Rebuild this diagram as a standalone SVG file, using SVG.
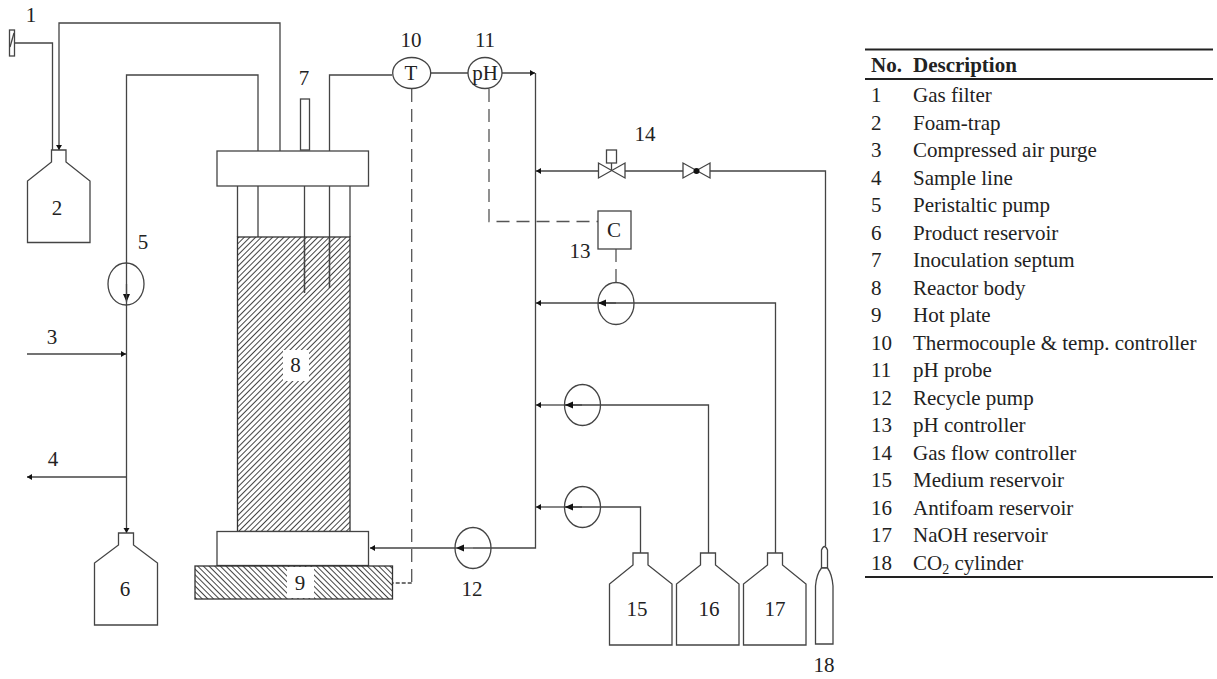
<svg xmlns="http://www.w3.org/2000/svg" width="1217" height="679" viewBox="0 0 1217 679">
<style>
text{font-family:"Liberation Serif","Times New Roman",serif;fill:#222}
.l{font-size:21px;text-anchor:middle}
.t{font-size:21px}
.b{font-weight:bold}
.s{fill:none;stroke:#444;stroke-width:1.3}
.w{fill:#fff;stroke:#444;stroke-width:1.3}
.c{fill:none;stroke:#444;stroke-width:1.3}
.d{fill:none;stroke:#555;stroke-width:1.3;stroke-dasharray:13 7}
.a{marker-end:url(#ah)}
.p{marker-end:url(#ap)}
.r{stroke:#222;stroke-width:2}
</style>
<defs>
<marker id="ah" markerUnits="userSpaceOnUse" markerWidth="8" markerHeight="8" refX="6" refY="4" orient="auto"><path d="M1 1L6 4L1 7Z" fill="#111"/></marker>
<marker id="ap" markerUnits="userSpaceOnUse" markerWidth="10" markerHeight="10" refX="8" refY="5" orient="auto"><path d="M0 1.500L8 5L0 8.500Z" fill="#111"/></marker>
<pattern id="h1" patternUnits="userSpaceOnUse" width="4" height="4" patternTransform="rotate(-45)"><rect width="4" height="1" fill="#444"/></pattern>
<pattern id="h2" patternUnits="userSpaceOnUse" width="4" height="4" patternTransform="rotate(45)"><rect width="4" height="1" fill="#444"/></pattern>
</defs>

<g id="connectors">
<path class="c" d="M14.500 43H52.500V151"/>
<path class="c a" d="M280 151V23H59V150"/>
<path class="c" d="M258 151V75H126.500V284"/>
<path class="c p" d="M126.500 284V302"/>
<path class="c a" d="M126.500 284V533"/>
<path class="c a" d="M27 354H126"/>
<path class="c a" d="M126.500 477H27"/>
<path class="c" d="M329.500 151V75H392"/>
<path class="c" d="M430.500 73H468"/>
<path class="c a" d="M502 73H535"/>
<path class="c" d="M535.500 73V548H473"/>
<path class="c p" d="M473 548H456"/>
<path class="c a" d="M456 548H370"/>
<path class="d" d="M411.700 89V583"/>
<path class="c" stroke-dasharray="4 2" style="stroke-dasharray:4 2" d="M411.700 583H392.500"/>
<path class="d" d="M489 89V221.500H598"/>
<path class="d" d="M616 249V284"/>
<path class="c a" d="M598 171H536"/>
<path class="c" d="M625 171H683M710 171H825.500V546"/>
<path class="c a" d="M600 303H536"/>
<path class="c" d="M600 303H775.500V553"/>
<path class="c p" d="M616 303H598"/>
<path class="c a" d="M566 405H536"/>
<path class="c" d="M566 405H708.500V553"/>
<path class="c p" d="M582 405H565"/>
<path class="c a" d="M566 507H536"/>
<path class="c" d="M566 507H640.500V553"/>
<path class="c p" d="M582 507H565"/>
</g>

<g id="n1"><rect class="w" x="9.500" y="30" width="5" height="26"/><path class="s" d="M10 47L14 33"/><text class="l" x="31" y="22">1</text></g>
<g id="n2"><path class="w" d="M51.500 150V162L27.500 181V242.500H90V181L66 162V150Z"/><text class="l" x="57" y="215">2</text></g>
<g id="n5"><ellipse class="s" cx="126" cy="284" rx="18" ry="21"/><text class="l" x="143" y="249">5</text></g>
<g id="n3"><text class="l" x="52" y="344">3</text></g>
<g id="n4"><text class="l" x="53" y="466">4</text></g>
<g id="n6"><path class="w" d="M118.500 533V545L94.500 563V625H157.500V563L133.500 545V533Z"/><text class="l" x="125" y="596">6</text></g>

<g id="n8">
<path class="s" d="M237.500 186V237M350 186V237M258 186V237M304.500 186V293M329.500 186V288"/>
<rect x="237.500" y="237" width="112.500" height="294.500" fill="url(#h1)" stroke="#333" stroke-width="1.300"/>
<path class="s" d="M304.500 237V293M329.500 237V288"/>
<rect x="283" y="350" width="26" height="31" fill="#fff"/>
<text class="l" x="295.500" y="372">8</text>
<rect class="w" x="217" y="151" width="151.500" height="35"/>
<rect class="w" x="217" y="531.500" width="151.500" height="34"/>
</g>
<g id="n7"><rect class="w" x="300.500" y="99" width="9" height="51"/><text class="l" x="304" y="85">7</text></g>
<g id="n9"><rect x="195" y="566" width="197.500" height="33" fill="url(#h2)" stroke="#333" stroke-width="1.300"/><rect x="287" y="567" width="27" height="31" fill="#fff"/><text class="l" x="300" y="590">9</text></g>
<g id="n10"><ellipse class="w" cx="411.700" cy="73" rx="19" ry="15.500"/><text class="l" x="411" y="80">T</text><text class="l" x="411" y="47">10</text></g>
<g id="n11"><ellipse class="w" cx="485" cy="73" rx="17" ry="15.500"/><text class="l" x="485" y="80">pH</text><text class="l" x="485" y="47">11</text></g>
<g id="n12"><ellipse class="s" cx="473" cy="548" rx="18" ry="20.500"/><text class="l" x="472" y="596">12</text></g>
<g id="n13"><rect class="w" x="598" y="211" width="33" height="38"/><text class="l" x="614" y="237">C</text><text class="l" x="580" y="258">13</text><ellipse class="s" cx="616" cy="303.500" rx="18" ry="21"/></g>
<g id="n14">
<path class="w" d="M598.500 163V178L625 163V178Z"/>
<rect class="w" x="606.500" y="150" width="10" height="13"/><path class="s" d="M611.500 163V171"/>
<path class="w" d="M683 163V178L710 163V178Z"/><circle cx="696.500" cy="171" r="3" fill="#111"/>
<text class="l" x="645" y="141">14</text>
</g>
<g id="pump-16"><ellipse class="s" cx="582.500" cy="405" rx="18" ry="20.500"/></g>
<g id="pump-15"><ellipse class="s" cx="582.500" cy="507" rx="18" ry="20.500"/></g>
<g id="n15"><path class="w" d="M633 553V565L609.500 584V645H672V584L648 565V553Z"/><text class="l" x="637" y="616">15</text></g>
<g id="n16"><path class="w" d="M700.500 553V565L676.500 584V645H739V584L715.500 565V553Z"/><text class="l" x="709" y="616">16</text></g>
<g id="n17"><path class="w" d="M767.500 553V565L743.500 584V645H806V584L782.500 565V553Z"/><text class="l" x="775" y="616">17</text></g>
<g id="n18"><path class="w" d="M821.500 568V550Q824.500 543 827.500 550V568Z"/><path class="w" d="M815.500 644V586Q816.500 574 821.500 568H827.500Q832 574 833 586V644Z"/><text class="l" x="824" y="672">18</text></g>

<g id="legend">
<line class="r" x1="865" y1="49.500" x2="1213" y2="49.500"/>
<line class="r" x1="865" y1="79" x2="1213" y2="79"/>
<line class="r" x1="865" y1="577" x2="1213" y2="577"/>
<text class="t b" x="871" y="72">No.</text><text class="t b" x="913" y="72">Description</text>
<text class="t" x="871" y="102">1</text><text class="t" x="913" y="102">Gas filter</text>
<text class="t" x="871" y="129.500">2</text><text class="t" x="913" y="129.500">Foam-trap</text>
<text class="t" x="871" y="157">3</text><text class="t" x="913" y="157">Compressed air purge</text>
<text class="t" x="871" y="184.500">4</text><text class="t" x="913" y="184.500">Sample line</text>
<text class="t" x="871" y="212">5</text><text class="t" x="913" y="212">Peristaltic pump</text>
<text class="t" x="871" y="239.500">6</text><text class="t" x="913" y="239.500">Product reservoir</text>
<text class="t" x="871" y="267">7</text><text class="t" x="913" y="267">Inoculation septum</text>
<text class="t" x="871" y="294.500">8</text><text class="t" x="913" y="294.500">Reactor body</text>
<text class="t" x="871" y="322">9</text><text class="t" x="913" y="322">Hot plate</text>
<text class="t" x="871" y="349.500">10</text><text class="t" x="913" y="349.500">Thermocouple &amp; temp. controller</text>
<text class="t" x="871" y="377">11</text><text class="t" x="913" y="377">pH probe</text>
<text class="t" x="871" y="404.500">12</text><text class="t" x="913" y="404.500">Recycle pump</text>
<text class="t" x="871" y="432">13</text><text class="t" x="913" y="432">pH controller</text>
<text class="t" x="871" y="459.500">14</text><text class="t" x="913" y="459.500">Gas flow controller</text>
<text class="t" x="871" y="487">15</text><text class="t" x="913" y="487">Medium reservoir</text>
<text class="t" x="871" y="514.500">16</text><text class="t" x="913" y="514.500">Antifoam reservoir</text>
<text class="t" x="871" y="542">17</text><text class="t" x="913" y="542">NaOH reservoir</text>
<text class="t" x="871" y="569.500">18</text><text class="t" x="913" y="569.500">CO<tspan font-size="14" dy="4">2</tspan><tspan dy="-4"> cylinder</tspan></text>
</g>
</svg>
